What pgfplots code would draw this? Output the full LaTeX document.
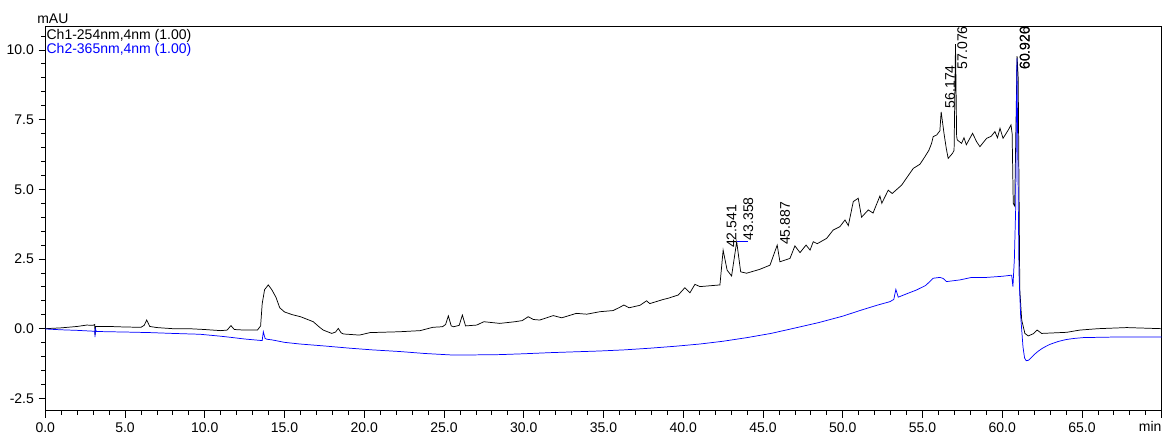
\documentclass[border=0pt]{standalone}
\usepackage{pgfplots}
\pgfplotsset{compat=1.18}
\usepackage{fontspec}
\setmainfont{Liberation Sans}
\usetikzlibrary{calc}
\definecolor{chblue}{RGB}{0,0,255}
\begin{document}
\begin{tikzpicture}
\begin{axis}[
  name=ax,
  scale only axis,
  width=837.5pt, height=288.75pt,
  xmin=0, xmax=70, ymin=-2.95, ymax=10.86,
  axis line style={black, line width=0.7pt},
  tick align=outside,
  major tick length=5pt, minor tick length=3pt,
  tick style={black, line width=0.6pt},
  xtick={0,5,...,70},
  xticklabels={0.0,5.0,10.0,15.0,20.0,25.0,30.0,35.0,40.0,45.0,50.0,55.0,60.0,65.0,{}},
  minor xtick={0,1,...,70},
  ytick={-2.5,0,2.5,5,7.5,10},
  yticklabels={-2.5,0.0,2.5,5.0,7.5,10.0},
  minor ytick={-2.5,-2,...,10.5},
  xtick pos=bottom, ytick pos=left,
  tick label style={font=\fontsize{10.5}{12}\selectfont},
  clip=true,
]
\addplot[black, line width=0.55pt] coordinates {
(0.0,0.0)(1.0,0.03)(2.0,0.08)(2.6,0.13)(3.0,0.12)(3.1,0.15)(3.12,-0.22)(3.15,0.08)
(4.0,0.08)(5.0,0.06)(6.0,0.05)(6.2,0.12)(6.36,0.31)(6.55,0.08)(7.0,0.04)(8.0,0.0)
(9.0,0.0)(10.0,-0.03)(11.0,-0.07)(11.4,-0.05)(11.64,0.11)(11.85,-0.03)(12.5,-0.05)
(13.3,-0.05)(13.5,0.1)(13.6,0.9)(13.75,1.4)(13.98,1.57)(14.2,1.4)(14.46,1.13)
(14.7,0.75)(15.0,0.6)(15.5,0.5)(16.0,0.43)(16.8,0.25)(17.2,0.05)(17.43,-0.05)(17.96,-0.17)
(18.2,-0.12)(18.37,0.01)(18.55,-0.15)(18.7,-0.19)(19.7,-0.23)(20.36,-0.14)
(22.2,-0.11)(23.5,-0.07)(24.3,0.05)(24.9,0.07)(25.1,0.15)(25.27,0.46)(25.45,0.1)
(25.6,0.07)(25.95,0.12)(26.15,0.49)(26.35,0.1)(27.05,0.13)(27.5,0.25)(28.5,0.19)
(29.45,0.25)(29.9,0.29)(30.28,0.43)(30.6,0.33)(31.0,0.31)(31.85,0.47)(32.38,0.39)
(33.3,0.55)(33.95,0.52)(34.78,0.61)(35.6,0.65)(36.03,0.77)(36.28,0.85)(36.6,0.75)
(37.29,0.84)(37.7,1.0)(37.9,0.9)(38.75,1.05)(39.1,1.1)(39.69,1.21)(40.1,1.47)
(40.42,1.29)(40.73,1.59)(41.05,1.51)(42.3,1.57)(42.5,2.82)(42.75,2.1)(43.03,1.89)
(43.35,3.12)(43.6,2.04)(43.97,1.99)(44.8,2.13)(45.1,2.2)(45.44,2.28)(45.89,3.0)
(46.06,2.4)(46.69,2.52)(47.0,2.97)(47.32,2.73)(47.7,3.0)(47.95,2.82)(48.15,3.12)
(48.4,3.05)(48.99,3.24)(49.4,3.54)(49.82,3.66)(50.14,3.9)(50.35,3.7)(50.66,4.56)
(50.97,4.68)(51.18,4.0)(51.6,4.26)(51.9,4.15)(52.33,4.76)(52.45,4.5)(52.85,4.97)
(53.1,4.85)(53.69,5.15)(54.42,5.75)(54.84,5.9)(55.15,6.17)(55.4,6.4)(55.57,6.65)
(55.67,6.89)(55.89,6.95)(56.09,7.1)(56.17,7.78)(56.35,7.0)(56.49,6.47)(56.61,6.11)
(56.88,6.29)(56.98,6.4)(57.07,10.21)(57.14,6.9)(57.18,6.77)(57.45,6.65)(57.6,6.85)
(57.75,6.6)(58.14,7.01)(58.39,6.71)(58.6,6.53)(59.02,6.83)(59.3,6.9)(59.54,7.07)
(59.7,6.85)(59.86,7.19)(60.05,6.83)(60.38,7.13)(60.55,7.31)(60.62,7.0)(60.69,4.5)
(60.78,4.4)(60.93,9.78)(61.0,9.0)(61.1,1.39)(61.22,0.31)(61.42,-0.17)(61.63,-0.26)
(61.95,-0.18)(62.19,-0.05)(62.47,-0.17)(64.04,-0.13)(64.87,-0.05)(66.0,0.0)
(67.8,0.04)(70.0,0.0)
};
\addplot[chblue, line width=0.55pt] coordinates {
(0.0,-0.01)(1.0,-0.04)(2.0,-0.06)(3.0,-0.09)(3.1,-0.09)(3.12,-0.3)(3.14,0.0)(3.2,-0.1)
(4.0,-0.11)(5.0,-0.12)(6.56,-0.14)(8.0,-0.17)(9.7,-0.2)(11.0,-0.27)(11.77,-0.32)
(12.5,-0.37)(13.46,-0.42)(13.6,-0.42)(13.67,-0.11)(13.78,-0.35)(13.9,-0.38)
(14.2,-0.4)(15.0,-0.49)(15.97,-0.55)(17.5,-0.62)(19.1,-0.7)(20.5,-0.76)(22.24,-0.82)
(23.8,-0.89)(25.37,-0.94)(27.0,-0.94)(28.5,-0.93)(30.0,-0.9)(31.64,-0.86)(33.2,-0.83)
(34.78,-0.8)(36.3,-0.76)(37.91,-0.7)(39.5,-0.63)(41.05,-0.55)(42.5,-0.45)(44.0,-0.32)
(45.5,-0.17)(46.9,0.01)(48.5,0.22)(50.0,0.45)(51.18,0.67)(52.2,0.85)(52.96,0.97)
(53.2,1.05)(53.33,1.41)(53.48,1.13)(54.0,1.25)(54.63,1.39)(55.2,1.55)(55.67,1.81)
(56.09,1.84)(56.3,1.8)(56.51,1.69)(57.35,1.75)(58.08,1.84)(59.02,1.84)(60.0,1.88)
(60.59,1.92)(60.67,1.51)(60.76,2.5)(60.84,4.26)(60.92,9.7)(60.98,6.0)(61.05,2.0)
(61.15,0.5)(61.3,-0.65)(61.4,-1.05)(61.5,-1.15)(61.65,-1.13)(61.8,-1.05)(62.0,-0.93)
(62.25,-0.81)(62.5,-0.71)(62.75,-0.63)(63.0,-0.56)(63.5,-0.46)(64.0,-0.39)
(64.5,-0.35)(65.08,-0.32)(66.0,-0.31)(67.0,-0.3)(70.0,-0.3)
};
\addplot[chblue, line width=0.6pt] coordinates {(43.35,3.12)(44.08,3.12)};
\begin{scope}[every node/.style={font=\fontsize{10.5}{12}\selectfont, inner sep=0pt, rotate=90, anchor=west}]
\node at (axis cs:43.03,2.89) {42.541};
\node at (axis cs:44.08,3.17) {43.358};
\node at (axis cs:46.38,3.0) {45.887};
\node at (axis cs:56.72,7.9) {56.174};
\node at (axis cs:57.5,9.3) {57.076};
\node at (axis cs:61.42,9.28) {60.926};
\node at (axis cs:61.42,9.28) {60.920};
\end{scope}
\end{axis}
\node[anchor=base west, inner sep=0pt, font=\fontsize{10.5}{12}\selectfont] at ($(ax.north west)+(0.8pt,-10pt)$) {Ch1-254nm,4nm (1.00)};
\node[anchor=base west, inner sep=0pt, text=chblue, font=\fontsize{10.5}{12}\selectfont] at ($(ax.north west)+(0.8pt,-21pt)$) {Ch2-365nm,4nm (1.00)};
\node[anchor=base west, inner sep=0pt, font=\fontsize{10.5}{12}\selectfont] at ($(ax.north west)+(-6.2pt,1.5pt)$) {mAU};
\node[anchor=base east, inner sep=0pt, font=\fontsize{10.5}{12}\selectfont] at ($(ax.south east)+(0pt,-15.5pt)$) {min};
\pgfresetboundingbox
\useasboundingbox ($(ax.south west)+(-33.98pt,-18pt)$) rectangle ($(ax.north east)+(1.7pt,19.5pt)$);
\end{tikzpicture}
\end{document}
